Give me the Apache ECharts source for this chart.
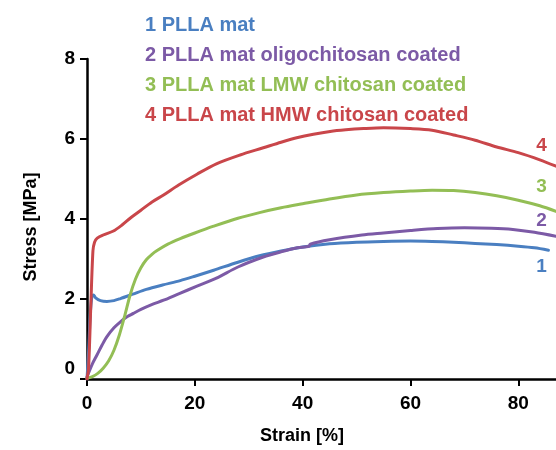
<!DOCTYPE html>
<html><head><meta charset="utf-8">
<script src="https://cdn.jsdelivr.net/npm/echarts@6/dist/echarts.min.js"></script>
<style>html,body{margin:0;padding:0;background:#fff}#c{width:556px;height:450px}</style>
</head><body><div id="c"></div>
<script>
const FONT = '"Liberation Sans", Arial, Helvetica, sans-serif';
const seriesNames = ['1 PLLA mat', '2 PLLA mat oligochitosan coated', '3 PLLA mat LMW chitosan coated', '4 PLLA mat HMW chitosan coated'];
const curveIds = ['1', '2', '3', '4'];
const colors = ['#4a7fc1', '#7c5aa6', '#93be55', '#c9464a'];

const strain1 = [0, 0.3, 0.6, 0.9, 1.2, 1.6, 2.5, 3.7, 5, 6.2, 8.5, 11, 14, 17.3, 20, 23.5, 28, 32, 36, 40, 45, 50, 55, 60, 64, 68, 72, 76, 80, 83, 85.6];
const stress1 = [0, 0.7, 1.6, 2.05, 2.1, 2.03, 1.96, 1.94, 1.96, 2.01, 2.12, 2.24, 2.35, 2.46, 2.57, 2.72, 2.92, 3.08, 3.2, 3.3, 3.38, 3.42, 3.44, 3.45, 3.44, 3.42, 3.39, 3.36, 3.32, 3.28, 3.22];

const strain2 = [0, 0.5, 1, 1.85, 2.8, 3.7, 5, 6.2, 7.5, 8.6, 10, 12, 14.2, 17, 20.4, 24, 28, 32.7, 36, 39, 41.2, 41.4, 45, 51, 55, 60, 65, 70, 75, 79, 83, 87];
const stress2 = [0.05, 0.22, 0.38, 0.6, 0.85, 1.06, 1.28, 1.43, 1.56, 1.64, 1.74, 1.86, 1.97, 2.13, 2.32, 2.52, 2.8, 3.05, 3.18, 3.28, 3.32, 3.37, 3.48, 3.6, 3.65, 3.71, 3.76, 3.78, 3.77, 3.74, 3.67, 3.57];

const strain3 = [0, 1, 2, 3, 4, 5, 6, 7, 8, 9, 10, 11, 12, 13, 15, 17.3, 20, 23.5, 28, 32, 36, 40, 45, 50, 55, 60, 64, 68, 72, 76, 80, 84, 87];
const stress3 = [0.02, 0.06, 0.14, 0.27, 0.45, 0.72, 1.1, 1.58, 2.1, 2.5, 2.78, 2.98, 3.11, 3.21, 3.37, 3.51, 3.65, 3.82, 4.02, 4.16, 4.28, 4.38, 4.5, 4.6, 4.66, 4.7, 4.72, 4.71, 4.66, 4.58, 4.47, 4.33, 4.19];

const strain4 = [0, 0.3, 0.7, 1.1, 1.4, 1.9, 3, 4.9, 6.5, 8, 10, 12, 14.2, 17, 20.4, 24, 28.4, 32.7, 36, 38.9, 42, 45.1, 48, 51.3, 55, 60, 64, 68, 72, 76, 80, 84, 87];
const stress4 = [0, 0.3, 1.8, 3.2, 3.42, 3.52, 3.6, 3.7, 3.85, 4.02, 4.22, 4.42, 4.6, 4.85, 5.12, 5.38, 5.6, 5.78, 5.92, 6.03, 6.12, 6.19, 6.23, 6.26, 6.28, 6.26, 6.22, 6.1, 5.97, 5.8, 5.66, 5.48, 5.32];

const endLabelStrain = [84.3, 84.3, 84.3, 84.3];
const endLabelStress = [2.8, 3.95, 4.8, 5.82];

const xTicks = [0, 20, 40, 60, 80];
const yTicks = [0, 2, 4, 6, 8];

const strains = [strain1, strain2, strain3, strain4];
const stresses = [stress1, stress2, stress3, stress4];

const chart = echarts.init(document.getElementById('c'), null, {renderer: 'canvas'});
const series = seriesNames.map((name, i) => ({
  name: name,
  type: 'line',
  data: strains[i].map((x, k) => [x, stresses[i][k]]),
  showSymbol: false,
  symbol: 'none',
  smooth: 0.3,
  clip: true,
  lineStyle: {color: colors[i], width: 3, cap: 'round', join: 'round'},
  itemStyle: {color: colors[i]},
  z: 2 + i,
  markPoint: {
    symbol: 'circle', symbolSize: 0, silent: true,
    data: [{coord: [endLabelStrain[i], endLabelStress[i]], value: curveIds[i]}],
    label: {show: true, position: 'inside', formatter: curveIds[i], color: colors[i], fontSize: 19, fontWeight: 'bold', fontFamily: FONT}
  }
}));

chart.setOption({
  animation: false,
  backgroundColor: '#fff',
  grid: {left: 87, right: 0, top: 59, bottom: 67, containLabel: false},
  legend: {
    orient: 'vertical', left: 135, top: 10, itemGap: 10,
    icon: 'rect', itemWidth: 0, itemHeight: 0, selectedMode: false,
    data: seriesNames.map((n, i) => ({name: n, textStyle: {color: colors[i]}})),
    textStyle: {fontSize: 20, fontWeight: 'bold', fontFamily: FONT}
  },
  xAxis: {
    type: 'value', min: 0, max: 87, interval: 20,
    name: 'Strain [%]', nameLocation: 'middle', nameGap: 48,
    nameTextStyle: {fontSize: 18, fontWeight: 'bold', color: '#000', fontFamily: FONT, padding: [0, 39, 0, 0]},
    axisLine: {show: true, lineStyle: {color: '#000', width: 2.5}},
    axisTick: {show: true, length: 7, lineStyle: {color: '#000', width: 2}, customValues: xTicks},
    axisLabel: {customValues: xTicks, margin: 15, fontSize: 19, fontWeight: 'bold', color: '#000', fontFamily: FONT},
    splitLine: {show: false}
  },
  yAxis: {
    type: 'value', min: 0, max: 8, interval: 2,
    name: 'Stress [MPa]', nameLocation: 'middle', nameGap: 47, nameRotate: 90,
    nameTextStyle: {fontSize: 18, fontWeight: 'bold', color: '#000', fontFamily: FONT, padding: [0, 16, 0, 0]},
    axisLine: {show: true, lineStyle: {color: '#000', width: 2.5}},
    axisTick: {show: true, length: 7, lineStyle: {color: '#000', width: 2}, customValues: yTicks},
    axisLabel: {
      customValues: yTicks, margin: 12, fontSize: 19, fontWeight: 'bold', color: '#000', fontFamily: FONT,
      formatter: v => v === 0 ? '{z|0}' : String(v),
      rich: {z: {padding: [0, 0, 20, 0], fontSize: 19, fontWeight: 'bold', color: '#000', fontFamily: FONT}}
    },
    splitLine: {show: false}
  },
  series: series
});
</script></body></html>
